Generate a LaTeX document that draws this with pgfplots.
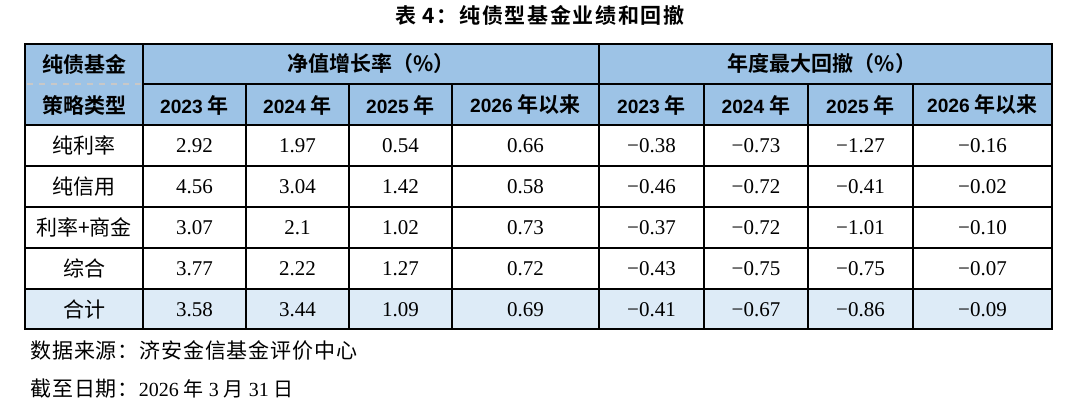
\documentclass[border=0pt]{standalone}
\usepackage{pgfplots}
\pgfplotsset{compat=1.18}
\usepackage{pgfplotstable}
\usepackage{fontspec}
\setmainfont{Liberation Serif}
\newfontfamily\hs{Liberation Sans}
\newfontfamily\cj{Noto Sans CJK SC}[BoldFont={Noto Sans CJK SC Bold}]

\definecolor{hdrBlue}{HTML}{9DC3E6}
\definecolor{sumBlue}{HTML}{DDEBF7}
\definecolor{dashGray}{HTML}{C8C8C8}

% 净值增长率 (a..) 和 年度最大回撤 (d..), 单位 %
\pgfplotstableread{
name      a23  a24  a25  a26  d23   d24   d25   d26
纯利率     2.92 1.97 0.54 0.66 -0.38 -0.73 -1.27 -0.16
纯信用     4.56 3.04 1.42 0.58 -0.46 -0.72 -0.41 -0.02
利率+商金  3.07 2.1  1.02 0.73 -0.37 -0.72 -1.01 -0.10
综合       3.77 2.22 1.27 0.72 -0.43 -0.75 -0.75 -0.07
合计       3.58 3.44 1.09 0.69 -0.41 -0.67 -0.86 -0.09
}\perftable

% leading "-" -> true minus sign
\def\cellfmt#1{\expandafter\cellfmtA#1\relax}
\def\cellfmtA#1#2\relax{\ifx-#1\char"2212 #2\else#1#2\fi}

\newcommand{\fs}{\fontsize{10.5}{12}\selectfont}
\newcommand{\yr}[2]{{\hs\bfseries\fontsize{9.6}{12}\selectfont #1} {\cj\bfseries\fs #2}}

\pgfplotsset{
  cell/.style={draw=none, mark=none, only marks, point meta=explicit symbolic,
    nodes near coords={\cellfmt{\pgfplotspointmeta}},
    every node near coord/.append style={anchor=center, inner sep=0pt, font=\fs}},
}

\begin{document}
\begin{tikzpicture}
\begin{axis}[
    scale only axis,
    width=539pt, height=207pt,
    xmin=0, xmax=1078, ymin=0, ymax=414,
    y dir=reverse,
    hide axis,
    clip=false,
]
% keep the full page
\path (axis cs:0,0) rectangle (axis cs:1078,414);

% backgrounds
\fill[hdrBlue] (axis cs:25,44) rectangle (axis cs:1052,125);
\fill[sumBlue] (axis cs:25,289) rectangle (axis cs:1052,329);

% grid
\draw[dashGray, dashed, line width=0.6pt] (axis cs:27,84) -- (axis cs:141,84);
\draw[line width=0.8pt] (axis cs:143,84) -- (axis cs:1052,84);
\draw[line width=0.8pt] (axis cs:25,125) -- (axis cs:1052,125);
\draw[line width=0.8pt] (axis cs:25,166) -- (axis cs:1052,166);
\draw[line width=0.8pt] (axis cs:25,207) -- (axis cs:1052,207);
\draw[line width=0.8pt] (axis cs:25,248) -- (axis cs:1052,248);
\draw[line width=0.8pt] (axis cs:25,289) -- (axis cs:1052,289);
\draw[line width=0.8pt] (axis cs:143,44) -- (axis cs:143,329);
\draw[line width=0.8pt] (axis cs:599,44) -- (axis cs:599,329);
\draw[line width=0.8pt] (axis cs:246,84) -- (axis cs:246,329);
\draw[line width=0.8pt] (axis cs:349,84) -- (axis cs:349,329);
\draw[line width=0.8pt] (axis cs:452,84) -- (axis cs:452,329);
\draw[line width=0.8pt] (axis cs:704,84) -- (axis cs:704,329);
\draw[line width=0.8pt] (axis cs:808,84) -- (axis cs:808,329);
\draw[line width=0.8pt] (axis cs:913,84) -- (axis cs:913,329);
\draw[line width=0.85pt] (axis cs:25,44) rectangle (axis cs:1052,329);

% title
\node[inner sep=0pt] at (axis cs:540,15)
  {\cj\bfseries\fs\addfontfeature{LetterSpace=8}表 4：纯债型基金业绩和回撤};

% header
\node[inner sep=0pt] at (axis cs:84,64) {\cj\bfseries\fs 纯债基金};
\node[inner sep=0pt] at (axis cs:84,105) {\cj\bfseries\fs 策略类型};
\node[inner sep=0pt] at (axis cs:371,64) {\cj\bfseries\fs 净值增长率（\%）};
\node[inner sep=0pt] at (axis cs:822,64) {\cj\bfseries\fs 年度最大回撤（\%）};
\node[inner sep=0pt] at (axis cs:194.5,105) {\yr{2023}{年}};
\node[inner sep=0pt] at (axis cs:297.5,105) {\yr{2024}{年}};
\node[inner sep=0pt] at (axis cs:400.5,105) {\yr{2025}{年}};
\node[inner sep=0pt] at (axis cs:525.5,105) {\yr{2026}{年以来}};
\node[inner sep=0pt] at (axis cs:651.5,105) {\yr{2023}{年}};
\node[inner sep=0pt] at (axis cs:756,105) {\yr{2024}{年}};
\node[inner sep=0pt] at (axis cs:860.5,105) {\yr{2025}{年}};
\node[inner sep=0pt] at (axis cs:982.5,105) {\yr{2026}{年以来}};

% body
\addplot[cell, every node near coord/.append style={font=\cj\fs}]
  table[x expr=84, y expr=145.5+41*\coordindex, meta=name] \perftable;
\addplot[cell] table[x expr=194.5, y expr=145.5+41*\coordindex, meta=a23] \perftable;
\addplot[cell] table[x expr=297.5, y expr=145.5+41*\coordindex, meta=a24] \perftable;
\addplot[cell] table[x expr=400.5, y expr=145.5+41*\coordindex, meta=a25] \perftable;
\addplot[cell] table[x expr=525.5, y expr=145.5+41*\coordindex, meta=a26] \perftable;
\addplot[cell] table[x expr=651.5, y expr=145.5+41*\coordindex, meta=d23] \perftable;
\addplot[cell] table[x expr=756,   y expr=145.5+41*\coordindex, meta=d24] \perftable;
\addplot[cell] table[x expr=860.5, y expr=145.5+41*\coordindex, meta=d25] \perftable;
\addplot[cell] table[x expr=982.5, y expr=145.5+41*\coordindex, meta=d26] \perftable;

% notes
\node[anchor=west, inner sep=0pt] at (axis cs:30,351)
  {\cj\fs\addfontfeature{LetterSpace=4}数据来源：济安金信基金评价中心};
\node[anchor=west, inner sep=0pt] at (axis cs:30,389)
  {{\cj\fs\addfontfeature{LetterSpace=4}截至日期：}2026 {\cj 年} 3 {\cj 月} 31 {\cj 日}};
\end{axis}
\end{tikzpicture}
\end{document}
